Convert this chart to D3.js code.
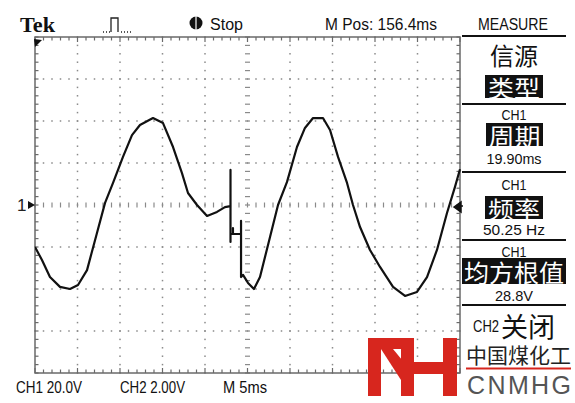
<!DOCTYPE html>
<html><head><meta charset="utf-8">
<script src="https://cdn.jsdelivr.net/npm/d3@7"></script>
<style>body{margin:0;background:#fff}svg{display:block}</style>
</head><body>
<script>
// ---- data ----
const timeMs  = [0,0.82,1.76,2.94,4.12,5.06,6.12,7.29,8.24,9.18,10.35,11.41,12.35,13.88,15.06,16.24,17.29,18.0,19.06,20.24,21.41,22.35,23.0,23.0,23.0,23.0,23.29,23.29,23.29,24.24,24.24,24.24,24.47,25.06,25.76,26.47,27.65,28.59,29.65,30.82,31.76,32.71,33.88,34.71,35.65,36.71,37.41,38.24,39.41,40.59,42.12,43.53,44.94,46.12,47.29,48.47,49.41,50];
const ch1Volts = [-20,-26.2,-34.3,-39,-40,-38.1,-31,-13.3,1,10.5,22.9,33.3,38.1,41.4,39,27.6,15.2,5.7,0,-5.2,-3.3,-1,-0.5,16.7,-17.6,-13.8,-13.8,-11,-13.8,-13.8,-7.6,-34.3,-33.3,-37.1,-40,-34.3,-15.2,0,11,27.6,36.7,41.4,41.4,35.7,22.9,10.5,0,-10.5,-21.4,-29.5,-39,-43.3,-41.4,-34.3,-21.4,-3.8,8.6,17];
const timeDomain = [0, 50];      // ms (10 div x 5ms)
const voltDomain = [-80, 80];    // V  (8 div x 20V)
const majorTime = d3.range(0, 51, 5);
const minorTime = d3.range(0, 51, 1);
const majorVolt = d3.range(-80, 81, 20);
const minorVolt = d3.range(-80, 81, 4);
const headerTexts = ["Tek", "Stop", "M Pos: 156.4ms", "MEASURE"];
const footerTexts = ["CH1 20.0V", "CH2 2.00V", "M 5ms"];
const menuTitles = ["信源", "CH1", "CH1", "CH1"];
const menuItems = ["类型", "周期", "频率", "均方根值"];
const menuValues = ["", "19.90ms", "50.25 Hz", "28.8V"];
const ch2Label = ["CH2", "关闭"];
const logoTexts = ["中国煤化工", "CNMHG"];

const W = 575, H = 403;
const svg = d3.select("body").append("svg").attr("width", W).attr("height", H);
svg.append("rect").attr("width", W).attr("height", H).attr("fill", "#fff");

const x = d3.scaleLinear().domain(timeDomain).range([35, 460]);
const y = d3.scaleLinear().domain(voltDomain).range([373, 37]);
const gridCol = "#8a8a8a";
const g = svg.append("g");

// dotted grid lines
majorTime.filter(t => t > 0 && t < 50 && t !== 25).forEach(t => {
  minorVolt.forEach(v => g.append("rect").attr("x", x(t) - 0.75).attr("y", y(v) - 0.75)
    .attr("width", 1.5).attr("height", 1.5).attr("fill", gridCol));
});
majorVolt.filter(v => v > -80 && v < 80 && v !== 0).forEach(v => {
  minorTime.forEach(t => g.append("rect").attr("x", x(t) - 0.75).attr("y", y(v) - 0.75)
    .attr("width", 1.5).attr("height", 1.5).attr("fill", gridCol));
});
// centre cross with ticks
minorTime.forEach(t => g.append("line").attr("x1", x(t)).attr("x2", x(t))
  .attr("y1", y(0) - 2.5).attr("y2", y(0) + 2.5).attr("stroke", gridCol).attr("stroke-width", 1.2));
minorVolt.forEach(v => g.append("line").attr("x1", x(25) - 2.5).attr("x2", x(25) + 2.5)
  .attr("y1", y(v)).attr("y2", y(v)).attr("stroke", gridCol).attr("stroke-width", 1.2));

// border with ruler ticks
const bc = "#6a6a6a";
g.append("rect").attr("x", x(0)).attr("y", y(80)).attr("width", x(50) - x(0)).attr("height", y(-80) - y(80))
  .attr("fill", "none").attr("stroke", bc).attr("stroke-width", 1.5);
minorTime.forEach(t => {
  const L = (t % 5 === 0) ? 5 : 3.5;
  g.append("line").attr("x1", x(t)).attr("x2", x(t)).attr("y1", y(80)).attr("y2", y(80) + L).attr("stroke", bc).attr("stroke-width", 1.2);
  g.append("line").attr("x1", x(t)).attr("x2", x(t)).attr("y1", y(-80)).attr("y2", y(-80) - L).attr("stroke", bc).attr("stroke-width", 1.2);
});
minorVolt.forEach(v => {
  g.append("line").attr("x1", x(0)).attr("x2", x(0) + 3.5).attr("y1", y(v)).attr("y2", y(v)).attr("stroke", bc).attr("stroke-width", 1.2);
  g.append("line").attr("x1", x(50)).attr("x2", x(50) - 3.5).attr("y1", y(v)).attr("y2", y(v)).attr("stroke", bc).attr("stroke-width", 1.2);
});

// waveform
svg.append("clipPath").attr("id", "clip").append("rect")
  .attr("x", x(0)).attr("y", y(80)).attr("width", x(50) - x(0) + 2).attr("height", y(-80) - y(80));
const pts = timeMs.map((t, i) => [t, ch1Volts[i]]);
svg.append("path").datum(pts).attr("clip-path", "url(#clip)")
  .attr("d", d3.line().x(d => x(d[0])).y(d => y(d[1])))
  .attr("fill", "none").attr("stroke", "#111").attr("stroke-width", 2.2).attr("stroke-linejoin", "round");

// markers
svg.append("path").attr("d", `M${x(0)-1},${y(80)+2} L${x(0)+7},${y(80)+3} L${x(0)},${y(80)+10} Z`).attr("fill", "#111");
svg.append("text").attr("x", 17).attr("y", y(0) + 6).attr("font-family", "Liberation Sans, Arial, sans-serif")
  .attr("font-size", 17).attr("fill", "#222").text("1");
svg.append("path").attr("d", `M${x(0)},${y(0)} L${x(0)-7},${y(0)-4} L${x(0)-7},${y(0)+4} Z`).attr("fill", "#111");
svg.append("path").attr("d", `M${x(50)-6},${y(0)+2} L${x(50)+1},${y(0)-3} L${x(50)+1},${y(0)+7} Z M${x(50)},${y(0)+1} h3`).attr("fill", "#111").attr("stroke", "#111").attr("stroke-width", 1.5);

// header
const sans = "Liberation Sans, Arial, sans-serif";
svg.append("text").attr("x", 20).attr("y", 32).attr("font-family", "Liberation Serif, Times New Roman, serif")
  .attr("font-weight", "bold").attr("font-size", 20).attr("textLength", 35).attr("lengthAdjust", "spacingAndGlyphs")
  .attr("fill", "#111").text(headerTexts[0]);
// trigger pulse icon
svg.append("path").attr("d", "M103,32 h1 M106,32 h1 M109,32 h1 M111,32 V18 h7 V32 M121,32 h1 M124,32 h1 M127,32 h1 M130,32 h1")
  .attr("fill", "none").attr("stroke", "#222").attr("stroke-width", 1.3);
svg.append("circle").attr("cx", 196).attr("cy", 23).attr("r", 6.5).attr("fill", "#111");
svg.append("line").attr("x1", 196).attr("x2", 196).attr("y1", 16).attr("y2", 30).attr("stroke", "#fff").attr("stroke-width", 1.2);
const hdr = [[210, 33, headerTexts[1]], [325, 112, headerTexts[2]], [478, 70, headerTexts[3]]];
hdr.forEach(([hx, len, s]) => svg.append("text").attr("x", hx).attr("y", 30).attr("font-family", sans)
  .attr("font-size", 16).attr("textLength", len).attr("lengthAdjust", "spacingAndGlyphs").attr("fill", "#111").text(s));

// footer
const ftr = [[16, 66], [120, 65], [223, 44]];
footerTexts.forEach((s, i) => svg.append("text").attr("x", ftr[i][0]).attr("y", 393).attr("font-family", sans)
  .attr("font-size", 17).attr("textLength", ftr[i][1]).attr("lengthAdjust", "spacingAndGlyphs").attr("fill", "#111").text(s));

// right menu
const cjk = "Noto Sans CJK SC, sans-serif";
const sepY = [36, 104, 172, 240, 305];
sepY.forEach(sy => svg.append("line").attr("x1", 462).attr("x2", 566).attr("y1", sy).attr("y2", sy)
  .attr("stroke", "#111").attr("stroke-width", 2));
const cx = 514;
// box 1
svg.append("text").attr("x", cx).attr("y", 54.5).attr("text-anchor", "middle").attr("dominant-baseline", "central")
  .attr("font-family", cjk).attr("font-size", 24).attr("fill", "#111").text(menuTitles[0]);
const hl = [[485, 75, 58, 23], [486, 123, 57, 23], [485, 196, 58, 23], [462, 258, 104, 26]];
const hlText = [86.5, 134.5, 207.5, 271];
menuItems.forEach((s, i) => {
  svg.append("rect").attr("x", hl[i][0]).attr("y", hl[i][1]).attr("width", hl[i][2]).attr("height", hl[i][3]).attr("fill", "#111");
  svg.append("text").attr("x", hl[i][0] + hl[i][2] / 2).attr("y", hlText[i]).attr("text-anchor", "middle")
    .attr("dominant-baseline", "central").attr("font-family", cjk).attr("font-size", i === 3 ? 24 : 23)
    .attr("textLength", i === 3 ? 100 : 52).attr("lengthAdjust", "spacingAndGlyphs")
    .attr("fill", "#fff").text(s);
});
const titleY = [0, 120, 190, 257];
const valY = [0, 164, 235, 301];
const valLen = [0, 55, 62, 38];
[1, 2, 3].forEach(i => {
  svg.append("text").attr("x", cx).attr("y", titleY[i]).attr("text-anchor", "middle").attr("font-family", sans)
    .attr("font-size", 15).attr("textLength", 25).attr("lengthAdjust", "spacingAndGlyphs").attr("fill", "#111").text(menuTitles[i]);
  svg.append("text").attr("x", cx).attr("y", valY[i]).attr("text-anchor", "middle").attr("font-family", sans)
    .attr("font-size", 15).attr("textLength", valLen[i]).attr("lengthAdjust", "spacingAndGlyphs").attr("fill", "#111").text(menuValues[i]);
});
svg.append("text").attr("x", 473).attr("y", 332).attr("font-family", sans).attr("font-size", 16)
  .attr("textLength", 26).attr("lengthAdjust", "spacingAndGlyphs").attr("fill", "#111").text(ch2Label[0]);
svg.append("text").attr("x", 501).attr("y", 325).attr("dominant-baseline", "central").attr("font-family", cjk)
  .attr("font-size", 27).attr("fill", "#111").text(ch2Label[1]);

// logo
const red = "#d7261e";
const logo = svg.append("g").attr("fill", red);
logo.append("rect").attr("x", 368).attr("y", 338).attr("width", 13).attr("height", 58);
logo.append("rect").attr("x", 368).attr("y", 338).attr("width", 46).attr("height", 11);
logo.append("path").attr("d", "M381,349 L393,349 L407,366 L401,380 Z");
logo.append("rect").attr("x", 401).attr("y", 338).attr("width", 13).attr("height", 58);
logo.append("rect").attr("x", 414).attr("y", 362).attr("width", 30).attr("height", 12);
logo.append("rect").attr("x", 443).attr("y", 338).attr("width", 14).attr("height", 58);
svg.append("text").attr("x", 466).attr("y", 354).attr("dominant-baseline", "central").attr("font-family", cjk)
  .attr("font-size", 21).attr("textLength", 105).attr("lengthAdjust", "spacingAndGlyphs").attr("fill", "#222").text(logoTexts[0]);
svg.append("line").attr("x1", 466).attr("x2", 571).attr("y1", 368.5).attr("y2", 368.5).attr("stroke", red).attr("stroke-width", 2);
svg.append("text").attr("x", 467).attr("y", 394).attr("font-family", "Liberation Sans, Arial, sans-serif")
  .attr("font-size", 25).attr("textLength", 104).attr("lengthAdjust", "spacing").attr("fill", "#555").text(logoTexts[1]);
</script>
</body></html>
